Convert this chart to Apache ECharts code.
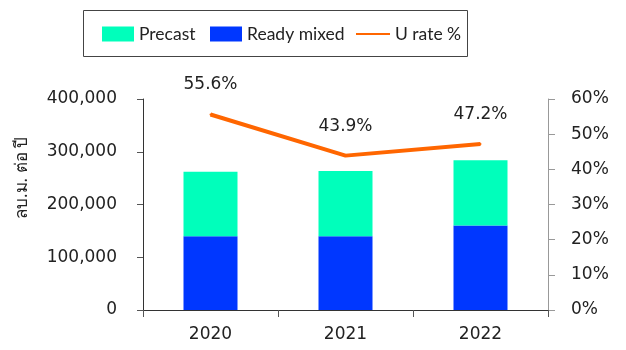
<!DOCTYPE html>
<html><head><meta charset="utf-8">
<script src="https://cdn.jsdelivr.net/npm/echarts@6/dist/echarts.min.js"></script>
<style>html,body{margin:0;padding:0;background:#fff}#c{width:626px;height:350px}</style>
</head><body><div id="c"></div>
<script>
const categories = ['2020', '2021', '2022'];
const readyMixed = [140000, 140000, 160000];
const precast = [122000, 123500, 124000];
const uRate = [55.6, 43.9, 47.2];
const leftTicks = [0, 100000, 200000, 300000, 400000];
const rightTicks = [0, 10, 20, 30, 40, 50, 60];
const yName = 'ลบ.ม. ต่อ ปี';

const NUMFONT = 'DejaVu Sans';
const TXTFONT = 'Lato';
const legendBase = {
  top: 25, padding: 0, itemWidth: 32, itemHeight: 15, itemGap: 4,
  textStyle: {fontSize: 17.5, color: '#222', fontFamily: TXTFONT, padding: [0, 0, 3, 0]}
};
const chart = echarts.init(document.getElementById('c'), null, {renderer: 'canvas'});
chart.setOption({
  animation: false,
  textStyle: {fontFamily: NUMFONT},
  grid: {left: 143, right: 78, top: 99, bottom: 40},
  legend: [
    Object.assign({left: 102, data: [{name: 'Precast', icon: 'rect'}]}, legendBase),
    Object.assign({left: 210, data: [{name: 'Ready mixed', icon: 'rect'}]}, legendBase),
    Object.assign({left: 355,
      data: [{name: 'U rate %', itemStyle: {opacity: 0}}]}, legendBase, {itemWidth: 34})
  ],
  graphic: [
    {type: 'rect', shape: {x: 83.5, y: 10.5, width: 384, height: 46}, style: {fill: 'none', stroke: '#444', lineWidth: 1}},
    {type: 'text', x: 22, y: 178, rotation: Math.PI / 2,
     style: {text: yName, fontSize: 17, fontFamily: 'Noto Sans', fill: '#222', align: 'center', verticalAlign: 'middle'}}
  ],
  xAxis: {
    type: 'category', data: categories,
    axisLine: {lineStyle: {color: '#333', width: 1}},
    axisTick: {show: true, length: 7, lineStyle: {color: '#555'}},
    axisLabel: {fontSize: 17, color: '#222', margin: 16, fontFamily: NUMFONT}
  },
  yAxis: [
    {type: 'value', min: leftTicks[0], max: leftTicks[leftTicks.length - 1], interval: 100000,
     axisLine: {show: true, lineStyle: {color: '#333'}},
     axisTick: {show: true, length: 6, lineStyle: {color: '#555'}},
     splitLine: {show: false},
     axisLabel: {fontSize: 17, color: '#222', margin: 26, fontFamily: NUMFONT,
       formatter: v => v === 0 ? '0' : v.toLocaleString('en-US')}},
    {type: 'value', min: rightTicks[0], max: rightTicks[rightTicks.length - 1], interval: 10, position: 'right',
     axisLine: {show: true, lineStyle: {color: '#999'}},
     axisTick: {show: true, length: 7, lineStyle: {color: '#999'}},
     splitLine: {show: false},
     axisLabel: {fontSize: 17, color: '#222', margin: 23, fontFamily: NUMFONT, formatter: v => v + '%'}}
  ],
  series: [
    {name: 'Ready mixed', type: 'bar', stack: 's', data: readyMixed, barWidth: 54,
     itemStyle: {color: '#0037FF'}},
    {name: 'Precast', type: 'bar', stack: 's', data: precast, barWidth: 54,
     itemStyle: {color: '#00FFBB'}},
    {name: 'U rate %', type: 'line', yAxisIndex: 1, data: uRate, symbol: 'circle', symbolSize: 2,
     lineStyle: {color: '#FF6600', width: 4}, itemStyle: {color: '#FF6600'},
     label: {show: true, position: 'top', distance: 20, fontSize: 17, color: '#222', fontFamily: NUMFONT,
       formatter: p => p.value.toFixed(1) + '%'}}
  ]
});
</script></body></html>
